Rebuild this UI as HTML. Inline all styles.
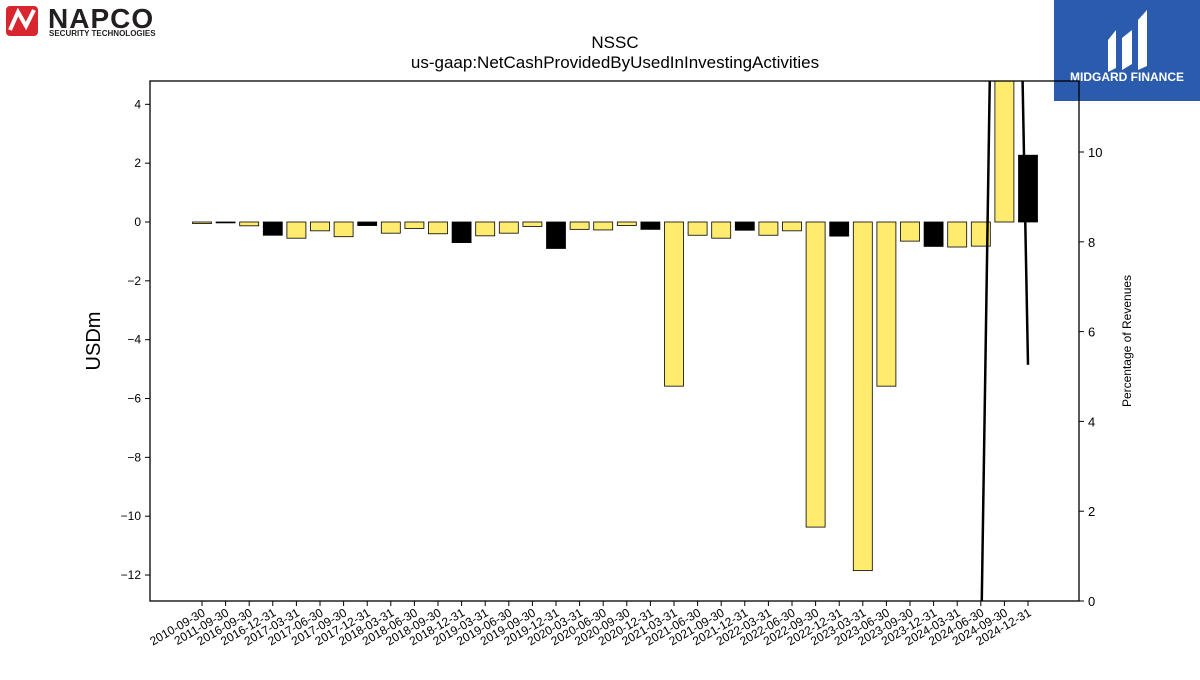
<!DOCTYPE html>
<html><head><meta charset="utf-8"><style>
body{margin:0;background:#fff;width:1200px;height:675px;overflow:hidden;font-family:"Liberation Sans","DejaVu Sans",sans-serif}
</style></head><body>
<svg id="c" width="1200" height="675" xmlns="http://www.w3.org/2000/svg">
<g>
<rect x="6" y="6" width="32" height="30" rx="4" fill="#d9262e"/>
<path d="M10 30 L18 12 L26 26 L34 10" stroke="#fff" stroke-width="4" fill="none"/>
<text x="48" y="28" font-size="28" font-weight="bold" fill="#231f20" letter-spacing="1">NAPCO</text>
<text x="49" y="36" font-size="8" font-weight="bold" fill="#231f20">SECURITY TECHNOLOGIES</text>
</g>
<g>
<rect x="1054" y="0" width="146" height="101" fill="#2b5bad"/>
<path d="M1108 40 L1116 30 L1116 68 L1108 72 Z M1122 38 L1132 30 L1132 64 L1122 70 Z M1138 20 L1147 10 L1147 66 L1138 70 Z" fill="#fff"/>
<text x="1127" y="81" font-size="12" font-weight="bold" fill="#fff" text-anchor="middle">MIDGARD FINANCE</text>
</g>
<text x="615" y="48" font-size="17" text-anchor="middle">NSSC</text>
<text x="615" y="68" font-size="17" text-anchor="middle">us-gaap:NetCashProvidedByUsedInInvestingActivities</text>
<text transform="translate(100,341) rotate(-90)" font-size="20" text-anchor="middle">USDm</text>
<text transform="translate(1131,341) rotate(-90)" font-size="12" text-anchor="middle">Percentage of Revenues</text>
<g id="g"></g>
</svg>
<script>
const categories=["2010-09-30","2011-09-30","2016-09-30","2016-12-31","2017-03-31","2017-06-30","2017-09-30","2017-12-31","2018-03-31","2018-06-30","2018-09-30","2018-12-31","2019-03-31","2019-06-30","2019-09-30","2019-12-31","2020-03-31","2020-06-30","2020-09-30","2020-12-31","2021-03-31","2021-06-30","2021-09-30","2021-12-31","2022-03-31","2022-06-30","2022-09-30","2022-12-31","2023-03-31","2023-06-30","2023-09-30","2023-12-31","2024-03-31","2024-06-30","2024-09-30","2024-12-31"];
const values=[-0.05,-0.03,-0.13,-0.45,-0.55,-0.3,-0.5,-0.12,-0.38,-0.22,-0.4,-0.7,-0.47,-0.38,-0.15,-0.9,-0.25,-0.27,-0.12,-0.25,-5.58,-0.45,-0.55,-0.28,-0.45,-0.3,-10.37,-0.48,-11.85,-5.58,-0.65,-0.83,-0.85,-0.82,6.0,2.27];
const isQ4=[0,1,0,1,0,0,0,1,0,0,0,1,0,0,0,1,0,0,0,1,0,0,0,1,0,0,0,1,0,0,0,1,0,0,0,1];
const pctValues=[null,null,null,null,null,null,null,null,null,null,null,null,null,null,null,null,null,null,null,null,null,null,null,null,null,null,null,null,null,null,null,null,null,-1.4,32.8,5.26];
const leftTicks=[4,2,0,-2,-4,-6,-8,-10,-12];
const rightTicks=[0,2,4,6,8,10];
const NS="http://www.w3.org/2000/svg",g=document.getElementById('g');
const L=150,R=1079,T=81,B=601;
const y=v=>222-v*29.42, y2=v=>601-v*44.9, x=i=>202+i*23.6;
function mk(t,a,p){const e=document.createElementNS(NS,t);for(const k in a)e.setAttribute(k,a[k]);(p||g).appendChild(e);return e;}
const clip=mk('clipPath',{id:'cp'});mk('rect',{x:L,y:T,width:R-L,height:B-T},clip);
const bars=mk('g',{'clip-path':'url(#cp)'});
values.forEach((v,i)=>{const y0=y(0),y1=y(v);
const r=mk('rect',{x:x(i)-9.5,y:Math.min(y0,y1),width:19,height:Math.max(Math.abs(y1-y0),0.8),fill:isQ4[i]?'#000':'#ffeb6e',stroke:'#000','stroke-width':0.8},bars);

});
let d='';pctValues.forEach((v,i)=>{if(v===null)return;d+=(d?'L':'M')+x(i)+' '+y2(v);});
const ln=mk('path',{d:d,stroke:'#000','stroke-width':2.5,fill:'none'},bars);


mk('rect',{x:L,y:T,width:R-L,height:B-T,fill:'none',stroke:'#000','stroke-width':1.3});
leftTicks.forEach(v=>{mk('line',{x1:L-5,x2:L,y1:y(v),y2:y(v),stroke:'#000'});
const t=mk('text',{x:L-9,y:y(v)+4,'font-size':12,'text-anchor':'end'});t.textContent=String(v).replace('-','−');
});
rightTicks.forEach(v=>{mk('line',{x1:R,x2:R+5,y1:y2(v),y2:y2(v),stroke:'#000'});
const t=mk('text',{x:R+9,y:y2(v)+5,'font-size':13});t.textContent=v;
});
categories.forEach((c,i)=>{mk('line',{x1:x(i),x2:x(i),y1:B,y2:B+5,stroke:'#000'});
const t=mk('text',{transform:`translate(${x(i)+4},${B+14}) rotate(-30)`,'font-size':12,'text-anchor':'end'});t.textContent=c;
});
</script>
</body></html>
